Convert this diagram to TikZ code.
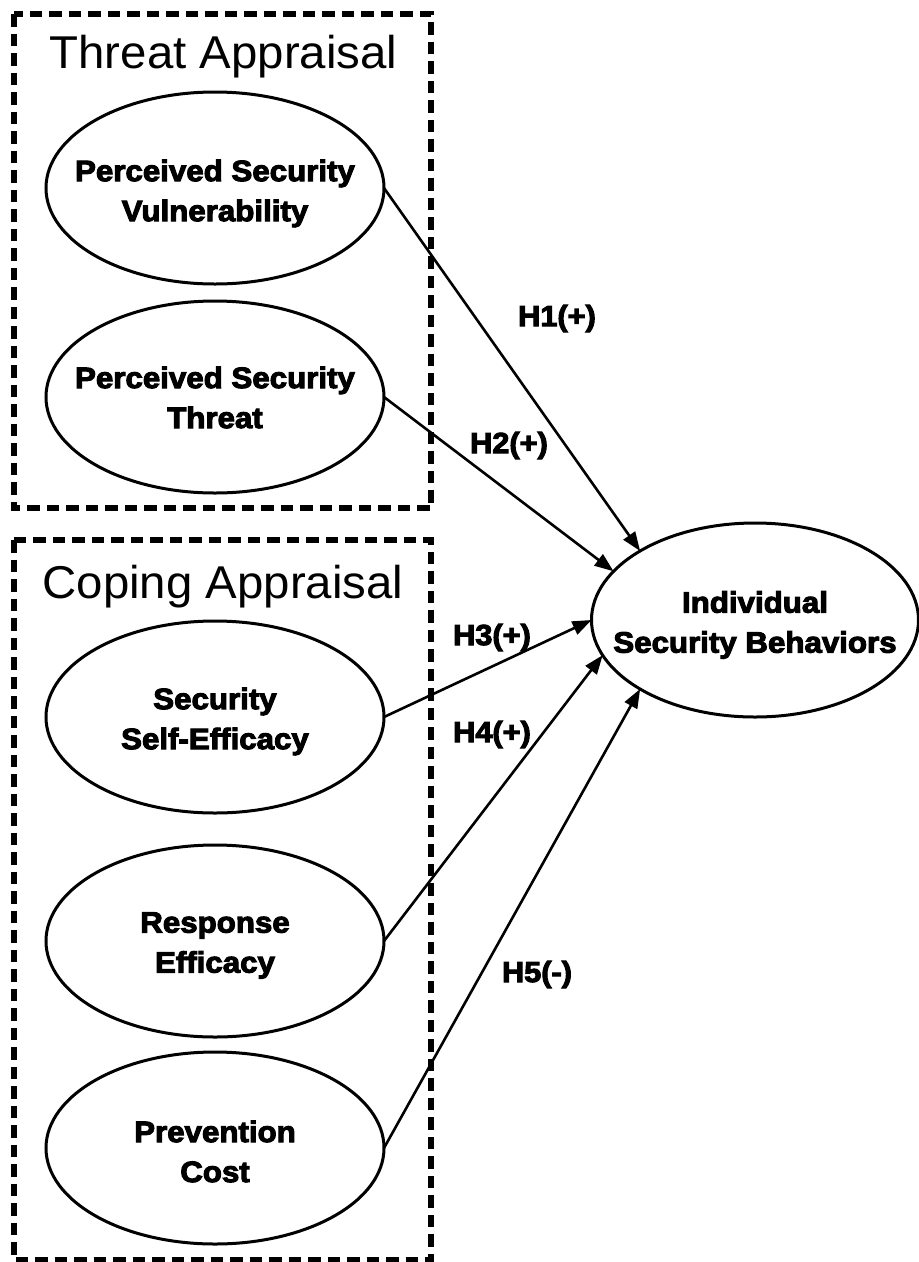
\documentclass[tikz,border=0pt]{standalone}
\usepackage{fontspec}
\usetikzlibrary{shapes.geometric,arrows.meta}
\newfontfamily\titlefont[FakeStretch=1.03]{Liberation Sans}
\newfontfamily\labfont[FakeStretch=1.06,FakeBold=3.5]{Liberation Sans Bold}
\begin{document}
\begin{tikzpicture}[x=1pt,y=-1pt,
  group/.style={draw, line width=5.5pt, dash pattern=on 12.5pt off 7pt},
  construct/.style={ellipse, draw, line width=3pt, inner sep=0pt, outer sep=0pt,
    minimum width=338pt, minimum height=192pt},
  ctext/.style={align=center, inner sep=0pt, font=\labfont\fontsize{29.5}{40}\selectfont},
  grouptitle/.style={anchor=base, inner sep=0pt, font=\titlefont\fontsize{46}{50}\selectfont},
  hyp/.style={anchor=base, inner sep=0pt, font=\labfont\fontsize{29}{32}\selectfont},
  link/.style={draw, line width=2.6pt, -{Triangle[length=19pt,width=14pt]}},
]
\useasboundingbox (0,0) rectangle (919,1262);
\fill[white] (0,0) rectangle (919,1262);

% construct groups
\draw[group] (14,14) rectangle (431,508);
\draw[group] (14,540) rectangle (431,1260);
\node[grouptitle] (tat) at (223.5,68) {Threat Appraisal};
\node[grouptitle] (cat) at (223,598) {Coping Appraisal};

% constructs
\node[construct] (psv) at (215,188) {};
\node[construct] (pst) at (215,397) {};
\node[construct] (sse) at (215,717) {};
\node[construct] (re)  at (215,941) {};
\node[construct] (pc)  at (215,1148) {};
\node[construct, minimum width=327pt, minimum height=194pt] (isb) at (755,620) {};

\node[ctext] (psvt) at (215,193.5) {Perceived Security\\Vulnerability};
\node[ctext] (pstt) at (215,397.5) {Perceived Security\\Threat};
\node[ctext] (sset) at (215,721.5) {Security\\Self-Efficacy};
\node[ctext] (ret)  at (215,945.5) {Response\\Efficacy};
\node[ctext] (pct)  at (215,1151.5) {Prevention\\Cost};
\node[ctext] (isbt) at (755,625) {Individual\\Security Behaviors};

% hypothesised paths
\draw[link] (psv.east) -- (isb.149);
\draw[link] (pst.east) -- (isb.161);
\draw[link] (sse.east) -- (isb.west);
\draw[link] (re.east)  -- (isb.193);
\draw[link] (pc.east)  -- (isb.211);

\node[hyp] (h1) at (557,326) {H1(+)};
\node[hyp] (h2) at (509,453) {H2(+)};
\node[hyp] (h3) at (492,645) {H3(+)};
\node[hyp] (h4) at (492,742) {H4(+)};
\node[hyp] (h5) at (537,982) {H5(-)};
\end{tikzpicture}
\end{document}
